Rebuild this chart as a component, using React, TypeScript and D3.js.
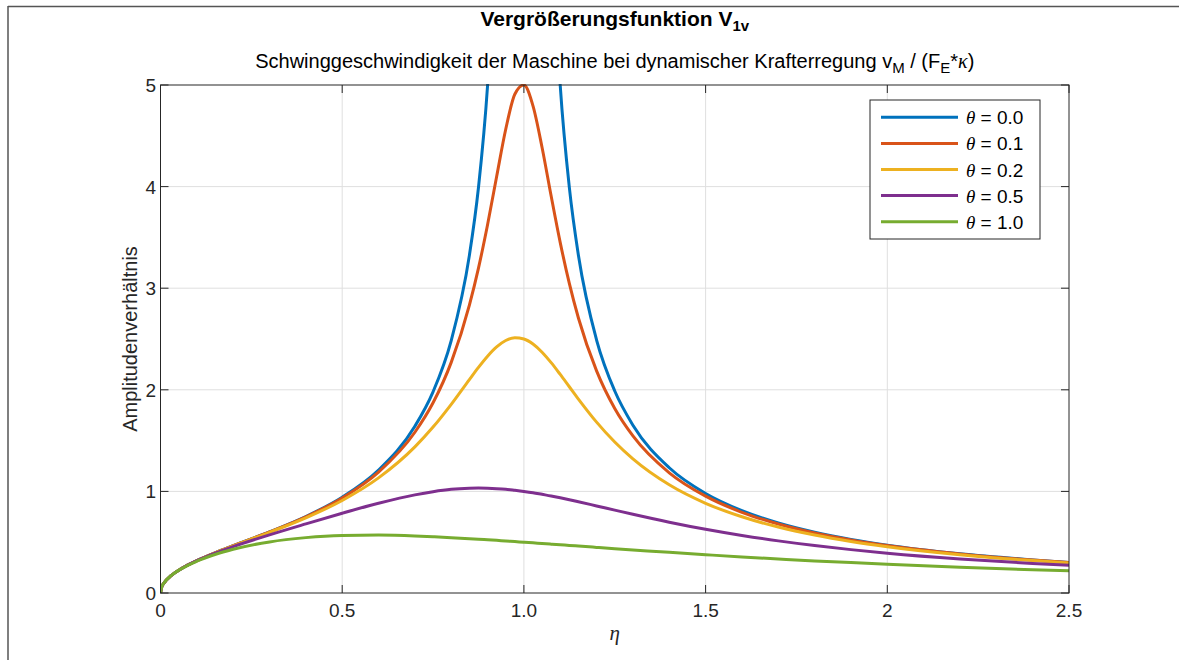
import React from "react";
import * as d3 from "d3";

const ETA = [0, 0.003, 0.01, 0.03, 0.06, 0.1, 0.15, 0.2, 0.3, 0.4, 0.5, 0.6, 0.7, 0.75, 0.8, 0.85, 0.875, 0.9, 0.925, 0.95, 0.975, 1.0, 1.025, 1.05, 1.075, 1.1, 1.125, 1.15, 1.2, 1.25, 1.3, 1.4, 1.5, 1.6, 1.7, 1.8, 1.9, 2.0, 2.2, 2.4, 2.5];

const V_THETA_00 = [0, 0.055, 0.100, 0.173, 0.246, 0.319, 0.396, 0.466, 0.602, 0.753, 0.943, 1.210, 1.641, 1.980, 2.485, 3.323, 3.991, 4.993, 6.662, 9.997, 19.998, null, 19.999, 9.997, 6.662, 4.994, 3.993, 3.325, 2.490, 1.988, 1.652, 1.233, 0.980, 0.811, 0.690, 0.599, 0.528, 0.471, 0.386, 0.326, 0.301];
const V_THETA_01 = [0, 0.055, 0.100, 0.173, 0.246, 0.319, 0.396, 0.465, 0.601, 0.750, 0.935, 1.190, 1.582, 1.872, 2.270, 2.833, 3.198, 3.625, 4.099, 4.564, 4.909, 5.000, 4.795, 4.385, 3.907, 3.449, 3.047, 2.707, 2.186, 1.816, 1.546, 1.183, 0.953, 0.794, 0.679, 0.591, 0.523, 0.467, 0.384, 0.324, 0.300];
const V_THETA_02 = [0, 0.055, 0.100, 0.173, 0.246, 0.319, 0.396, 0.464, 0.597, 0.740, 0.911, 1.133, 1.438, 1.633, 1.857, 2.101, 2.221, 2.331, 2.422, 2.485, 2.512, 2.500, 2.451, 2.370, 2.267, 2.151, 2.030, 1.909, 1.682, 1.486, 1.320, 1.065, 0.883, 0.750, 0.649, 0.570, 0.507, 0.456, 0.377, 0.319, 0.296];
const V_THETA_05 = [0, 0.055, 0.100, 0.173, 0.245, 0.318, 0.392, 0.456, 0.572, 0.680, 0.785, 0.883, 0.966, 0.997, 1.020, 1.031, 1.033, 1.031, 1.027, 1.021, 1.011, 1.000, 0.987, 0.971, 0.955, 0.937, 0.918, 0.898, 0.857, 0.816, 0.775, 0.697, 0.627, 0.566, 0.513, 0.467, 0.427, 0.392, 0.335, 0.291, 0.272];
const V_THETA_10 = [0, 0.055, 0.100, 0.173, 0.244, 0.313, 0.379, 0.430, 0.503, 0.545, 0.566, 0.570, 0.562, 0.554, 0.545, 0.535, 0.530, 0.524, 0.518, 0.512, 0.506, 0.500, 0.494, 0.487, 0.481, 0.475, 0.468, 0.462, 0.449, 0.436, 0.424, 0.400, 0.377, 0.355, 0.335, 0.316, 0.299, 0.283, 0.254, 0.229, 0.218];

const SERIES_LABELS = ["0.0", "0.1", "0.2", "0.5", "1.0"];
const SERIES_VALUES = [V_THETA_00, V_THETA_01, V_THETA_02, V_THETA_05, V_THETA_10];
const COLORS = ["#0072BD", "#D95319", "#EDB120", "#7E2F8E", "#77AC30"];

const X_TICKS = [0, 0.5, 1.0, 1.5, 2.0, 2.5];
const X_TICK_LABELS = ["0", "0.5", "1.0", "1.5", "2", "2.5"];
const Y_TICKS = [0, 1, 2, 3, 4, 5];
const Y_TICK_LABELS = ["0", "1", "2", "3", "4", "5"];

const W = 1179;
const H = 660;
const L = 160.5, R = 1069, T = 85, B = 593;
const SANS = "'Liberation Sans', Arial, Helvetica, sans-serif";
const SERIF = "'Liberation Serif', 'Times New Roman', serif";
const AX = "#262626";

export default function App() {
  const x = d3.scaleLinear().domain([0, 2.5]).range([L, R]);
  const y = d3.scaleLinear().domain([0, 5]).range([B, T]);
  const line = d3
    .line<{ e: number; v: number | null }>()
    .defined((d) => d.v != null)
    .x((d) => x(d.e))
    .y((d) => y(d.v as number))
    .curve(d3.curveMonotoneX);

  const tick = 8;
  const legX = 870, legY = 100, legW = 170, legH = 139;
  const rowY = (i: number) => 117.3 + i * 26.1;

  return (
    <svg width={W} height={H} style={{ position: "absolute", left: 0, top: 0, background: "#fff" }}>
      <defs>
        <clipPath id="plotclip">
          <rect x={L} y={T - 1} width={R - L} height={B - T + 1} />
        </clipPath>
      </defs>
      <rect x={0} y={0} width={W} height={H} fill="#fff" />
      {/* figure frame */}
      <line x1={8} y1={6.5} x2={W} y2={6.5} stroke="#555" strokeWidth={1.5} />
      <line x1={8} y1={6} x2={8} y2={H} stroke="#555" strokeWidth={1.5} />

      {/* grid */}
      {X_TICKS.slice(1, -1).map((t) => (
        <line key={"gx" + t} x1={x(t)} x2={x(t)} y1={T} y2={B} stroke="#dfdfdf" strokeWidth={1} />
      ))}
      {Y_TICKS.slice(1, -1).map((t) => (
        <line key={"gy" + t} x1={L} x2={R} y1={y(t)} y2={y(t)} stroke="#dfdfdf" strokeWidth={1} />
      ))}

      {/* curves */}
      <g clipPath="url(#plotclip)">
        {SERIES_VALUES.map((vals, i) => (
          <path
            key={"s" + i}
            d={line(ETA.map((e, j) => ({ e, v: vals[j] }))) || ""}
            fill="none"
            stroke={COLORS[i]}
            strokeWidth={3}
            strokeLinejoin="round"
          />
        ))}
      </g>

      {/* axes box */}
      <rect x={L} y={T} width={R - L} height={B - T} fill="none" stroke={AX} strokeWidth={1} />
      {X_TICKS.map((t) => (
        <g key={"tx" + t}>
          <line x1={x(t)} x2={x(t)} y1={B} y2={B - tick} stroke={AX} />
          <line x1={x(t)} x2={x(t)} y1={T} y2={T + tick} stroke={AX} />
        </g>
      ))}
      {Y_TICKS.map((t) => (
        <g key={"ty" + t}>
          <line x1={L} x2={L + tick} y1={y(t)} y2={y(t)} stroke={AX} />
          <line x1={R} x2={R - tick} y1={y(t)} y2={y(t)} stroke={AX} />
        </g>
      ))}
      {X_TICKS.map((t, i) => (
        <text key={"lx" + t} x={x(t)} y={617} textAnchor="middle" fontFamily={SANS} fontSize={19} fill={AX}>
          {X_TICK_LABELS[i]}
        </text>
      ))}
      {Y_TICKS.map((t, i) => (
        <text key={"ly" + t} x={156} y={y(t) + 7} textAnchor="end" fontFamily={SANS} fontSize={19} fill={AX}>
          {Y_TICK_LABELS[i]}
        </text>
      ))}

      {/* axis labels */}
      <text x={(L + R) / 2} y={640} textAnchor="middle" fontFamily={SERIF} fontStyle="italic" fontSize={21} fill={AX}>
        η
      </text>
      <text
        transform={`translate(137,${(T + B) / 2}) rotate(-90)`}
        textAnchor="middle"
        fontFamily={SANS}
        fontSize={20}
        fill={AX}
      >
        Amplitudenverhältnis
      </text>

      {/* titles */}
      <text x={(L + R) / 2} y={26} textAnchor="middle" fontFamily={SANS} fontSize={21} fontWeight="bold" fill="#000">
        <tspan>Vergrößerungsfunktion V</tspan>
        <tspan dy={5} fontSize={15}>1v</tspan>
      </text>
      <text x={(L + R) / 2} y={68} textAnchor="middle" fontFamily={SANS} fontSize={20} fill="#000">
        <tspan>Schwinggeschwindigkeit der Maschine bei dynamischer Krafterregung v</tspan>
        <tspan dy={5} fontSize={15}>M</tspan>
        <tspan dy={-5}> / (F</tspan>
        <tspan dy={5} fontSize={15}>E</tspan>
        <tspan dy={-5}>*</tspan>
        <tspan fontFamily={SERIF} fontStyle="italic">κ</tspan>
        <tspan>)</tspan>
      </text>

      {/* legend */}
      <rect x={legX} y={legY} width={legW} height={legH} fill="#fff" stroke={AX} strokeWidth={1} />
      {SERIES_LABELS.map((lab, i) => (
        <g key={"lg" + i}>
          <line x1={881} x2={958} y1={rowY(i)} y2={rowY(i)} stroke={COLORS[i]} strokeWidth={3} />
          <text x={966} y={rowY(i) + 7} fontFamily={SANS} fontSize={19} fill="#000">
            <tspan fontFamily={SERIF} fontStyle="italic">θ</tspan>
            <tspan>{" = " + lab}</tspan>
          </text>
        </g>
      ))}
    </svg>
  );
}
